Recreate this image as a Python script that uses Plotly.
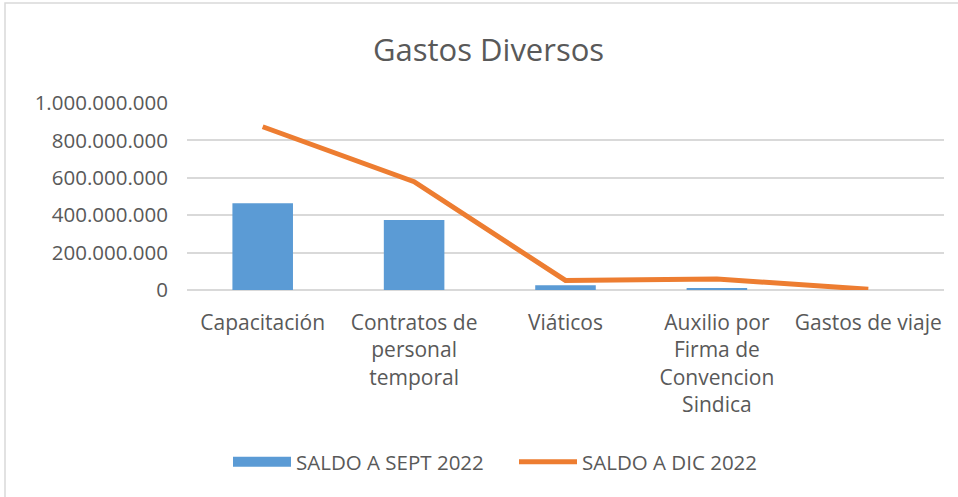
import plotly.graph_objects as go

categories = [
    "Capacitación",
    "Contratos de<br>personal<br>temporal",
    "Viáticos",
    "Auxilio por<br>Firma de<br>Convencion<br>Sindica",
    "Gastos de viaje",
]
saldo_sept_2022 = [464000000, 375000000, 26000000, 11000000, 0]
saldo_dic_2022 = [873000000, 579000000, 51000000, 59000000, 4000000]
y_ticks = [0, 200000000, 400000000, 600000000, 800000000, 1000000000]

TEXT = "#595959"
FONT = "Open Sans"
BLUE = "#5B9BD5"
ORANGE = "#ED7D31"

fig = go.Figure()
fig.add_trace(go.Bar(
    x=categories, y=saldo_sept_2022, name="SALDO A SEPT 2022",
    marker=dict(color=BLUE, line=dict(width=0)), width=0.4,
    showlegend=False, legendgroup="sept",
))
# legend entry for the bars (wide rectangle swatch like the original)
fig.add_trace(go.Scatter(
    x=[None], y=[None], name="SALDO A SEPT 2022", mode="lines",
    line=dict(color=BLUE, width=13), legendgroup="sept",
))
fig.add_trace(go.Scatter(
    x=categories, y=saldo_dic_2022, name="SALDO A DIC 2022",
    mode="lines", line=dict(color=ORANGE, width=5),
))

fig.update_layout(
    width=958, height=497,
    paper_bgcolor="white", plot_bgcolor="white",
    separators=",.",
    font=dict(family=FONT, color=TEXT, size=18),
    title=dict(text="Gastos Diversos", x=0.51, xanchor="center",
               y=1 - 50 / 497, yanchor="middle",
               font=dict(family=FONT, size=31, color=TEXT)),
    margin=dict(l=187, r=14, t=103, b=207),
    showlegend=True,
    legend=dict(orientation="h", xref="container", x=228 / 958, xanchor="left",
                yref="container", y=1 - 462 / 497, yanchor="middle",
                font=dict(size=20.5, color=TEXT), itemwidth=58,
                entrywidth=213, entrywidthmode="pixels",
                traceorder="normal", tracegroupgap=0),
    xaxis=dict(showgrid=False, showline=False, ticks="",
               ticklabelstandoff=18, tickfont=dict(size=21, color=TEXT),
               tickangle=0, fixedrange=True),
    yaxis=dict(range=[0, 1000000000], tickvals=y_ticks, tickformat=",d",
               showgrid=True, gridcolor="#D9D9D9", gridwidth=1.5,
               zeroline=True, zerolinecolor="#D9D9D9", zerolinewidth=1.5,
               showline=False, ticks="", ticklabelstandoff=18,
               tickfont=dict(size=20.5, color=TEXT), fixedrange=True),
    shapes=[dict(type="rect", xref="paper", yref="paper",
                 x0=(5 - 187) / 757, x1=(962 - 187) / 757,
                 y0=(290 - 502) / 187, y1=(290 - 3) / 187,
                 line=dict(color="#D9D9D9", width=1.5), fillcolor="rgba(0,0,0,0)",
                 layer="below")],
)

fig.write_html("out.html", config={"displayModeBar": False},
               post_script="document.body.style.margin='0';")
